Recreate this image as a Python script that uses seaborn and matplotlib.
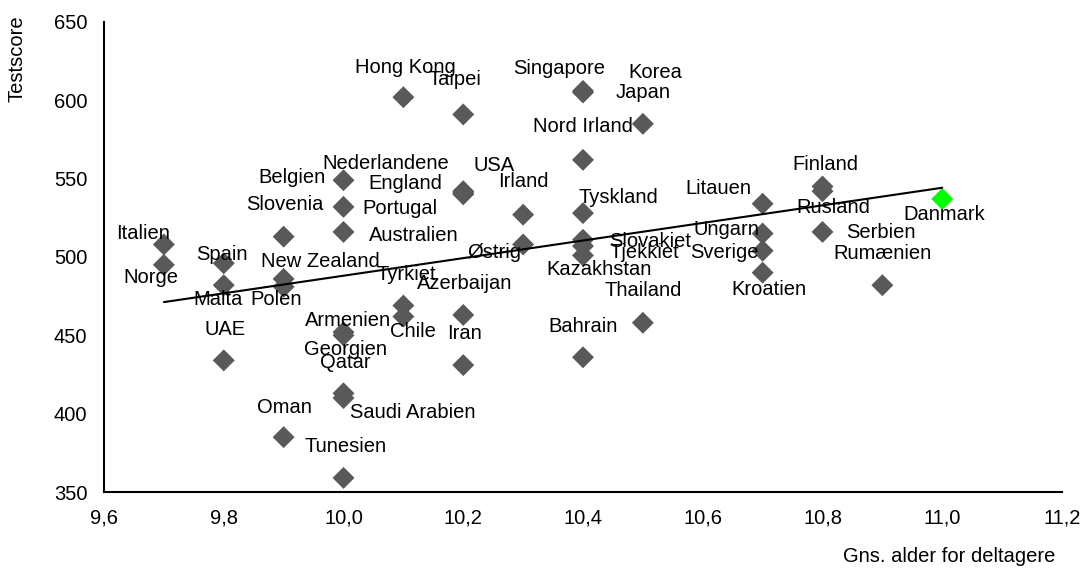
import numpy as np
import pandas as pd
import matplotlib
matplotlib.use("Agg")
import matplotlib.pyplot as plt
import seaborn as sns
from matplotlib.ticker import FuncFormatter, MultipleLocator

# ---- data ----
countries = ["Hong Kong", "Taipei", "Singapore", "Korea", "Japan", "Nord Irland",
             "Belgien", "Nederlandene", "England", "USA", "Irland", "Østrig",
             "Tyskland", "Slovakiet", "Tjekkiet", "Kazakhstan", "Bahrain", "Thailand",
             "Litauen", "Ungarn", "Sverige", "Kroatien", "Finland", "Rusland",
             "Serbien", "Rumænien", "Danmark", "Italien", "Norge", "Malta",
             "Spain", "Polen", "New Zealand", "Slovenia", "Portugal", "Australien",
             "Tyrkiet", "Chile", "Azerbaijan", "Iran", "Armenien", "Georgien",
             "Qatar", "Saudi Arabien", "Oman", "Tunesien", "UAE"]
ages = [10.1, 10.2, 10.4, 10.4, 10.5, 10.4,
        10.0, 10.2, 10.2, 10.2, 10.3, 10.3,
        10.4, 10.4, 10.4, 10.4, 10.4, 10.5,
        10.7, 10.7, 10.7, 10.7, 10.8, 10.8,
        10.8, 10.9, 11.0, 9.7, 9.7, 9.8,
        9.8, 9.9, 9.9, 9.9, 10.0, 10.0,
        10.1, 10.1, 10.2, 10.2, 10.0, 10.0,
        10.0, 10.0, 9.9, 10.0, 9.8]
scores = [602, 591, 606, 605, 585, 562,
          549, 540, 542, 541, 527, 508,
          528, 507, 511, 501, 436, 458,
          534, 515, 504, 490, 545, 542,
          516, 482, 537, 508, 495, 496,
          482, 481, 486, 513, 532, 516,
          469, 462, 463, 431, 452, 450,
          413, 410, 385, 359, 434]
highlight = "Danmark"
x_title = "Gns. alder for deltagere"
y_title = "Testscore"

# label offsets (pixels, relative to each marker)
label_dx = [2, -8, -24, 72, 0, 0,
            -51, -77, -58, 31, 0, -29,
            35, 67, 61, 16, 0, 0,
            -44, -36, -38, 6, 3, 11,
            58, 0, 2, -21, -13, -6,
            -2, -7, 37, 1, 56, 70,
            3, 10, 1, 1, 5, 2,
            2, 69, 1, 2, 1]
label_dy = [30, 35, 22, 20, 31, 33,
            3, 31, 8, 27, 33, -8,
            16, 5, -13, -14, 31, 32,
            15, 4, -2, -17, 22, -16,
            -1, 32, -15, 11, -13, -36,
            31, -13, 17, 32, -2, -4,
            31, -15, 31, 32, 12, -14,
            31, -15, 30, 31, 31]

# ---- style ----
sns.set_theme(style="white")
plt.rcParams["font.family"] = ["Liberation Sans", "DejaVu Sans"]
FS = 14.5

fig = plt.figure(figsize=(10.83, 5.69), dpi=100)
ax = fig.add_axes([104 / 1083, 1 - 492 / 569, 958 / 1083, 470 / 569])

df = pd.DataFrame({"country": countries, "age": ages, "score": scores})
df["grp"] = np.where(df["country"] == highlight, "hl", "other")

sns.scatterplot(data=df, x="age", y="score", hue="grp",
                palette={"other": "#595959", "hl": "#00FF00"},
                marker="D", s=125, linewidth=0, legend=False, ax=ax, zorder=3)
sns.regplot(data=df, x="age", y="score", scatter=False, ci=None, color="black",
            line_kws={"lw": 1.5, "zorder": 4}, ax=ax)

for name, x, y, dx, dy in zip(countries, ages, scores, label_dx, label_dy):
    ax.annotate(name, (x, y), xytext=(dx, dy), textcoords="offset pixels",
                ha="center", va="center", fontsize=FS, color="black", zorder=5)

ax.set_xlim(9.6, 11.2)
ax.set_ylim(350, 650)
ax.xaxis.set_major_locator(MultipleLocator(0.2))
ax.yaxis.set_major_locator(MultipleLocator(50))
ax.xaxis.set_major_formatter(FuncFormatter(lambda v, p: f"{v:.1f}".replace(".", ",")))
ax.yaxis.set_major_formatter(FuncFormatter(lambda v, p: f"{v:.0f}"))
ax.tick_params(axis="both", length=0, pad=12, labelsize=FS, colors="black")

for s in ["top", "right"]:
    ax.spines[s].set_visible(False)
for s in ["left", "bottom"]:
    ax.spines[s].set_color("black")
    ax.spines[s].set_linewidth(1.5)

ax.set_xlabel(x_title, fontsize=FS, color="black")
ax.xaxis.set_label_coords((1055 - 104) / 958, (492 - 557) / 470)
ax.xaxis.label.set_ha("right")
ax.xaxis.label.set_va("center")
ax.set_ylabel(y_title, fontsize=FS, color="black")
ax.yaxis.set_label_coords((17 - 104) / 958, (492 - 59) / 470)
ax.yaxis.label.set_ha("center")
ax.yaxis.label.set_va("center")

fig.savefig("out.png", dpi=100, facecolor="white")
